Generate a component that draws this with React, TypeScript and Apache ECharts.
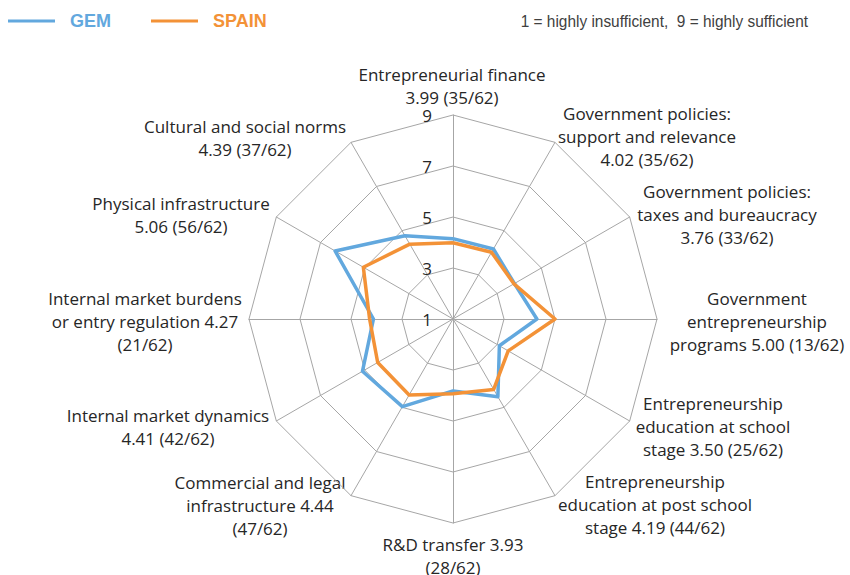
import React, { useEffect, useRef } from "react";
import * as echarts from "echarts";

// ---- data (clockwise from top) ----
const labelTemplates = [
  "Entrepreneurial finance\n{s} ({r}/62)",
  "Government policies:\nsupport and relevance\n{s} ({r}/62)",
  "Government policies:\ntaxes and bureaucracy\n{s} ({r}/62)",
  "Government\nentrepreneurship\nprograms {s} ({r}/62)",
  "Entrepreneurship\neducation at school\nstage {s} ({r}/62)",
  "Entrepreneurship\neducation at post school\nstage {s} ({r}/62)",
  "R&D transfer {s}\n({r}/62)",
  "Commercial and legal\ninfrastructure {s}\n({r}/62)",
  "Internal market dynamics\n{s} ({r}/62)",
  "Internal market burdens\nor entry regulation {s}\n({r}/62)",
  "Physical infrastructure\n{s} ({r}/62)",
  "Cultural and social norms\n{s} ({r}/62)",
];
const spainValues = [3.99, 4.02, 3.76, 5.0, 3.5, 4.19, 3.93, 4.44, 4.41, 4.27, 5.06, 4.39];
const gemValues = [4.15, 4.17, 3.78, 4.29, 3.1, 4.52, 3.82, 4.97, 5.1, 4.12, 6.34, 4.77];
const spainRanks = [35, 35, 33, 13, 25, 44, 28, 47, 42, 21, 56, 37];
const tickValues = [1, 3, 5, 7, 9];
const seriesNames = ["GEM", "SPAIN"];
const scaleNote = "1 = highly insufficient,  9 = highly sufficient";

// ---- layout / style ----
const BLUE = "#62a8de";
const ORANGE = "#f39237";
const GRID = "#a6a6a6";
const TEXT = "#262626";
const FONT = "'Open Sans', 'Noto Sans', sans-serif";
const SANS = "'Liberation Sans', Arial, sans-serif";
const labelPos: [number, number][] = [
  [452, 86],
  [647, 136],
  [727, 214],
  [757, 321],
  [713, 426],
  [655, 504],
  [453, 556],
  [260, 505],
  [168, 427],
  [145, 321],
  [181, 215],
  [245, 138],
];

// ECharts radar runs counter-clockwise: keep index 0 at top, reverse the rest
const toRadarOrder = <T,>(arr: T[]): T[] => [arr[0], ...arr.slice(1).reverse()];

export default function App() {
  const ref = useRef<HTMLDivElement>(null);
  useEffect(() => {
    if (!ref.current) return;
    const chart = echarts.init(ref.current, undefined, { renderer: "svg" });
    const min = tickValues[0];
    const max = tickValues[tickValues.length - 1];
    const indicators = toRadarOrder(labelTemplates).map((_, i) => ({
      name: "",
      min,
      max,
      ...(i === 0 ? { axisLabel: { show: true } } : {}),
    }));
    const labels = labelTemplates.map((t, i) => ({
      type: "text",
      x: labelPos[i][0],
      y: labelPos[i][1],
      silent: true,
      style: {
        text: t.replace("{s}", spainValues[i].toFixed(2)).replace("{r}", String(spainRanks[i])),
        align: "center",
        verticalAlign: "middle",
        fill: TEXT,
        font: `17px ${FONT}`,
        lineHeight: 23,
      },
    }));
    chart.setOption({
      animation: false,
      backgroundColor: "#ffffff",
      legend: {
        left: 8,
        top: 11,
        padding: 0,
        icon: "rect",
        itemWidth: 47,
        itemHeight: 3,
        itemGap: 40,
        data: [
          { name: seriesNames[0], textStyle: { color: BLUE } },
          { name: seriesNames[1], textStyle: { color: ORANGE } },
        ],
        textStyle: {
          fontFamily: SANS,
          fontWeight: "bold",
          fontSize: 18,
          lineHeight: 20,
          padding: [0, 0, 0, 10],
        },
      },
      radar: {
        center: [453, 319],
        radius: 204,
        startAngle: 90,
        shape: "polygon",
        splitNumber: tickValues.length - 1,
        indicator: indicators,
        axisName: { show: false },
        axisLine: { lineStyle: { color: GRID, width: 1 } },
        splitLine: { lineStyle: { color: GRID, width: 1 } },
        splitArea: { show: false },
        axisTick: { show: false },
        axisLabel: {
          show: false,
          color: TEXT,
          fontSize: 17,
          fontFamily: FONT,
          margin: 21,
          showMinLabel: true,
          showMaxLabel: true,
        },
      },
      series: [
        {
          type: "radar",
          symbol: "none",
          data: [
            {
              name: seriesNames[0],
              value: toRadarOrder(gemValues),
              lineStyle: { color: BLUE, width: 3.5 },
              itemStyle: { color: BLUE },
            },
            {
              name: seriesNames[1],
              value: toRadarOrder(spainValues),
              lineStyle: { color: ORANGE, width: 3.5 },
              itemStyle: { color: ORANGE },
            },
          ],
        },
      ],
      graphic: [
        ...labels,
        {
          type: "text",
          x: 808,
          y: 21,
          scaleX: 0.907,
          silent: true,
          style: {
            text: scaleNote,
            align: "right",
            verticalAlign: "middle",
            fill: "#404040",
            font: `17px ${SANS}`,
          },
        },
      ],
    });
    return () => chart.dispose();
  }, []);
  return (
    <div
      ref={ref}
      style={{ position: "absolute", left: 0, top: 0, width: 850, height: 575 }}
    />
  );
}
